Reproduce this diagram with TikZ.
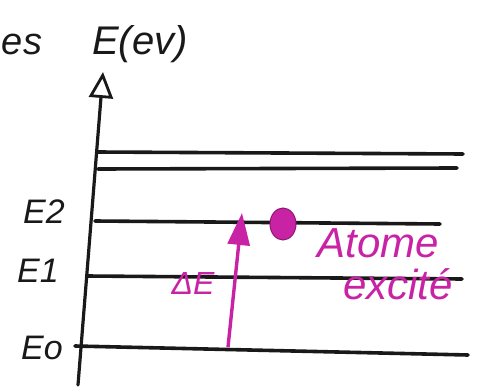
\documentclass[tikz,border=0pt]{standalone}
\usepackage{fontspec}
\setmainfont{Liberation Sans}
\usetikzlibrary{arrows.meta,shapes.geometric}
\definecolor{pen}{RGB}{25,25,25}
\definecolor{mag}{RGB}{200,35,165}
\begin{document}
\begin{tikzpicture}[x=1pt,y=-1pt,
  level/.style={draw=pen,line width=3.6pt,line cap=round},
  hand/.style={font=\itshape\fontsize{#1}{#1}\selectfont,inner sep=0pt},
  handm/.style={hand=#1,text=mag}]
\useasboundingbox (0,0) rectangle (481,390);
% axis
\coordinate (ab) at (78,385);
\coordinate (at) at (103,72);
\draw[pen,line width=3.2pt,line cap=round,-{Triangle[open,length=26pt,width=24pt,line width=2.8pt]}] (ab) -- (at);
% levels
\coordinate (l4a) at (97,152); \coordinate (l4b) at (463,154);
\coordinate (l3a) at (98,169); \coordinate (l3b) at (457,168);
\coordinate (l2a) at (95,221); \coordinate (l2b) at (440,224);
\coordinate (l1a) at (87,276); \coordinate (l1b) at (462,279);
\coordinate (l0a) at (75,346); \coordinate (l0b) at (468,355);
\draw[level] (l4a) -- (l4b);
\draw[level] (l3a) -- (l3b);
\draw[level] (l2a) -- (l2b);
\draw[level] (l1a) -- (l1b);
\draw[level] (l0a) -- (l0b);
% labels
\node[hand=38,text=pen] (es) at (22,44) {es};
\node[hand=40,text=pen] (E) at (140,44) {E(ev)};
\node[hand=34,text=pen] (E2) at (44,212) {E2};
\node[hand=34,text=pen] (E1) at (38,271) {E1};
\node[hand=34,text=pen] (E0) at (42,348) {Eo};
% transition
\coordinate (tb) at (228,347);
\coordinate (tt) at (242,213);
\draw[mag,line width=3.4pt,-{Triangle[length=32pt,width=22pt]}] (tb) -- (tt);
\node[fill=mag,draw=mag!70!black,line width=1pt,ellipse,minimum width=26pt,minimum height=32pt,inner sep=0pt] (dot) at (283,224) {};
\node[handm=32] (dE) at (193,283) {ΔE};
\node[handm=42] (at1) at (378,243) {Atome};
\node[handm=42] (at2) at (398,284) {excité};
\end{tikzpicture}
\end{document}
